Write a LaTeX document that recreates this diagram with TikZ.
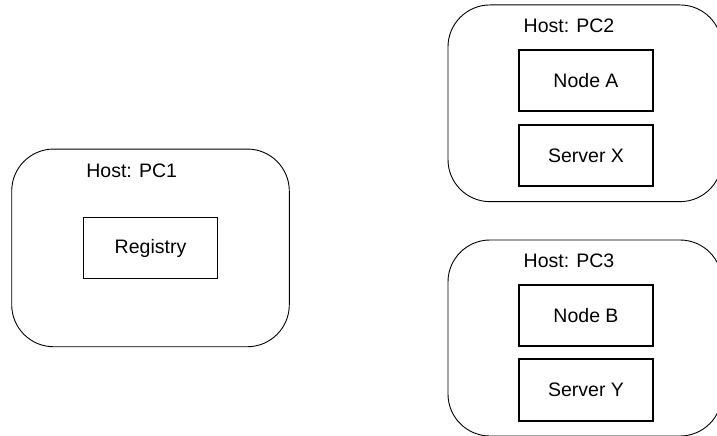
\documentclass[tikz,border=0pt]{standalone}
\usepackage{fontspec}
\setmainfont{Liberation Sans}
\tikzset{
  host/.style={draw, line width=0.9pt, rounded corners=42pt, inner sep=0pt},
  proc/.style={draw, line width=1.6pt, minimum width=134pt, minimum height=61pt,
    font=\fontsize{19.5}{23}\selectfont},
  hostlabel/.style={font=\fontsize{19.5}{23}\selectfont, inner sep=0pt}
}
\begin{document}
\begin{tikzpicture}[x=1pt,y=-1pt]
  \useasboundingbox (0,0) rectangle (717,436);
  % Draw hosts
  \node[host, minimum width=277.6pt, minimum height=197.7pt] (pc1) at (150.5,247.9) {};
  \node[host, minimum width=274pt, minimum height=196.7pt] (pc2) at (585,103.3) {};
  \node[host, minimum width=274pt, minimum height=196pt] (pc3) at (585,338) {};
  % Host labels
  \node[hostlabel] (pc1label) at (131.7,170.7) {Host: PC1};
  \node[hostlabel] (pc2label) at (569,26) {Host: PC2};
  \node[hostlabel] (pc3label) at (569,260.7) {Host: PC3};
  % Processes on each host
  \node[proc] (registry) at (150.5,248) {Registry};
  \node[proc] (nodea) at (586,80.3) {Node A};
  \node[proc] (serverx) at (586,155.3) {Server X};
  \node[proc] (nodeb) at (586,315.3) {Node B};
  \node[proc, minimum height=62pt] (servery) at (586,390) {Server Y};
\end{tikzpicture}
\end{document}
